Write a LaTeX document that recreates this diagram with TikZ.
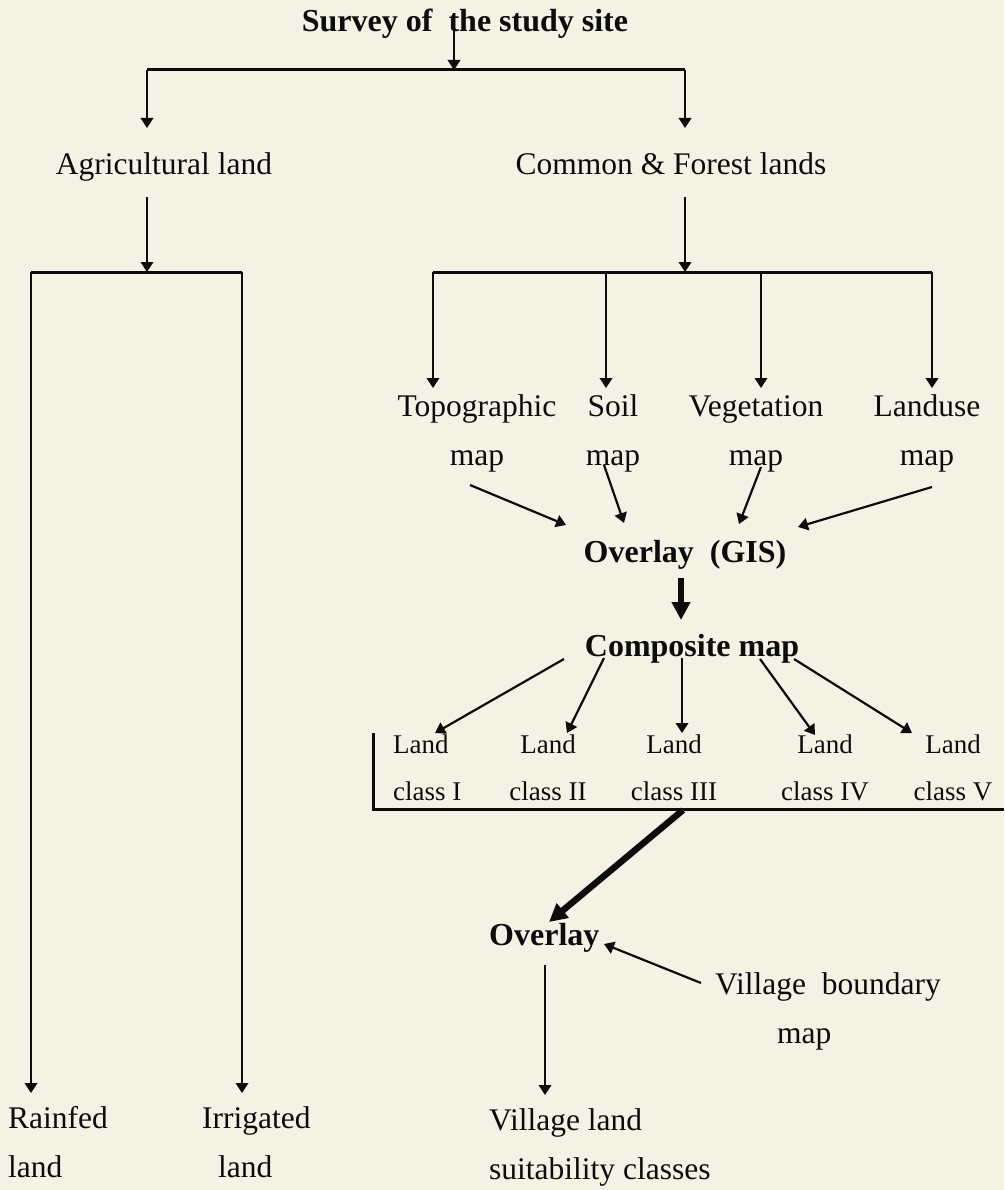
\documentclass[tikz,border=0pt]{standalone}
\usepackage{fontspec}
\setmainfont{Liberation Serif}
\usetikzlibrary{arrows.meta}
\definecolor{paper}{RGB}{244,242,229}
\definecolor{ink}{RGB}{12,12,12}
\newcommand{\twoline}[2][c]{\begin{tabular}[t]{@{}#1@{}}#2\end{tabular}}
\begin{document}
\begin{tikzpicture}[x=1pt,y=-1pt,
  lbl/.style={inner sep=0pt, anchor=base, text=ink, font=\fontsize{31.5}{49}\selectfont},
  bld/.style={inner sep=0pt, anchor=base, text=ink, font=\fontsize{32}{49}\selectfont\bfseries},
  sml/.style={inner sep=0pt, anchor=base, text=ink, font=\fontsize{27}{47}\selectfont},
  conn/.style={draw=ink, line width=2.2pt, -{Triangle[length=10pt,width=12.5pt]}},
  barl/.style={draw=ink, line width=3pt, line join=miter},
  fat/.style={draw=ink, line width=6.5pt, -{Triangle[length=18pt,width=18pt]}}]
\fill[paper] (0,0) rectangle (1004,1190);
\useasboundingbox (0,0) rectangle (1004,1190);

% nodes
\node[bld] (title) at (465,32) {Survey of\ \ the study site};
\node[lbl] (agri) at (164,175) {Agricultural land};
\node[lbl] (common) at (671,175) {Common \& Forest lands};
\node[lbl] (topo) at (477,416) {\twoline{Topographic\\map}};
\node[lbl] (soil) at (613,416) {\twoline{Soil\\map}};
\node[lbl] (veg) at (756,416) {\twoline{Vegetation\\map}};
\node[lbl] (landuse) at (927,416) {\twoline{Landuse\\map}};
\node[bld] (gis) at (685,562) {Overlay\ \ (GIS)};
\node[bld] (comp) at (692,656) {Composite map};
\node[sml, anchor=base west] (c1) at (393,753) {\twoline[l]{Land\\class I}};
\node[sml] (c2) at (548,753) {\twoline{Land\\class II}};
\node[sml] (c3) at (674,753) {\twoline{Land\\class III}};
\node[sml] (c4) at (825,753) {\twoline{Land\\class IV}};
\node[sml] (c5) at (953,753) {\twoline{Land\\class V}};
\node[bld, anchor=base west] (ovl) at (489,945) {Overlay};
\node[lbl, anchor=base west] (vbm) at (715,994) {\twoline[l]{Village\ \ boundary\\\hspace{62pt}map}};
\node[lbl, anchor=base west] (vls) at (489,1130) {\twoline[l]{Village land\\suitability classes}};
\node[lbl, anchor=base west] (rain) at (8,1128) {\twoline[l]{Rainfed\\land}};
\node[lbl, anchor=base west] (irr) at (202,1128) {\twoline[l]{Irrigated\\\hspace{16pt}land}};

% junction coordinates
\coordinate (tIn) at (454,28);
\coordinate (tBar) at (454,70);
\coordinate (bL) at (147,70);
\coordinate (bR) at (685,70);
\coordinate (agriTip) at (147,128);
\coordinate (comTip) at (685,128);
\coordinate (agriOut) at (147,197);
\coordinate (aBar) at (147,272);
\coordinate (aL) at (31,272);
\coordinate (aR) at (242,272);
\coordinate (rainTip) at (31,1093);
\coordinate (irrTip) at (242,1093);
\coordinate (comOut) at (685,197);
\coordinate (cBar) at (685,272);
\coordinate (m1) at (433,272);
\coordinate (m2) at (606,272);
\coordinate (m3) at (761,272);
\coordinate (m4) at (932,272);
\coordinate (m1t) at (433,388);
\coordinate (m2t) at (606,388);
\coordinate (m3t) at (761,388);
\coordinate (m4t) at (932,388);
\coordinate (topoOut) at (470,485);
\coordinate (soilOut) at (604,465);
\coordinate (vegOut) at (761,467);
\coordinate (luOut) at (932,487);
\coordinate (gisIn1) at (566,525);
\coordinate (gisIn2) at (624,523);
\coordinate (gisIn3) at (739,524);
\coordinate (gisIn4) at (798,527);
\coordinate (gisOut) at (681,578);
\coordinate (compIn) at (681,620);
\coordinate (k1) at (564,659);
\coordinate (k2) at (604,658);
\coordinate (k3) at (682,658);
\coordinate (k4) at (760,659);
\coordinate (k5) at (794,659);
\coordinate (k1t) at (435,733);
\coordinate (k2t) at (567,733);
\coordinate (k3t) at (682,733);
\coordinate (k4t) at (815,735);
\coordinate (k5t) at (912,733);
\coordinate (cbTop) at (373,733);
\coordinate (cbCorner) at (373,809);
\coordinate (cbEnd) at (1004,809);
\coordinate (cbOut) at (683,810);
\coordinate (ovlIn) at (549,922);
\coordinate (vbOut) at (701,983);
\coordinate (ovlIn2) at (604,944);
\coordinate (ovlOut) at (545,965);
\coordinate (vlsTip) at (545,1095);

% top level
\draw[conn] (tIn) -- (tBar);
\draw[barl] (bL) -- (bR);
\draw[conn] (bL) -- (agriTip);
\draw[conn] (bR) -- (comTip);

% agricultural branch
\draw[conn] (agriOut) -- (aBar);
\draw[barl] (aL) -- (aR);
\draw[conn] (aL) -- (rainTip);
\draw[conn] (aR) -- (irrTip);

% common branch
\draw[conn] (comOut) -- (cBar);
\draw[barl] (m1) -- (m4);
\foreach \a/\b in {m1/m1t, m2/m2t, m3/m3t, m4/m4t} \draw[conn] (\a) -- (\b);

% maps to overlay
\draw[conn] (topoOut) -- (gisIn1);
\draw[conn] (soilOut) -- (gisIn2);
\draw[conn] (vegOut) -- (gisIn3);
\draw[conn] (luOut) -- (gisIn4);
\draw[fat] (gisOut) -- (compIn);

% composite to classes
\draw[conn] (k1) -- (k1t);
\draw[conn] (k2) -- (k2t);
\draw[conn] (k3) -- (k3t);
\draw[conn] (k4) -- (k4t);
\draw[conn] (k5) -- (k5t);
\draw[barl] (cbTop) -- (cbCorner) -- (cbEnd);

% final overlay
\draw[fat] (cbOut) -- (ovlIn);
\draw[conn] (vbOut) -- (ovlIn2);
\draw[conn] (ovlOut) -- (vlsTip);
\end{tikzpicture}
\end{document}
